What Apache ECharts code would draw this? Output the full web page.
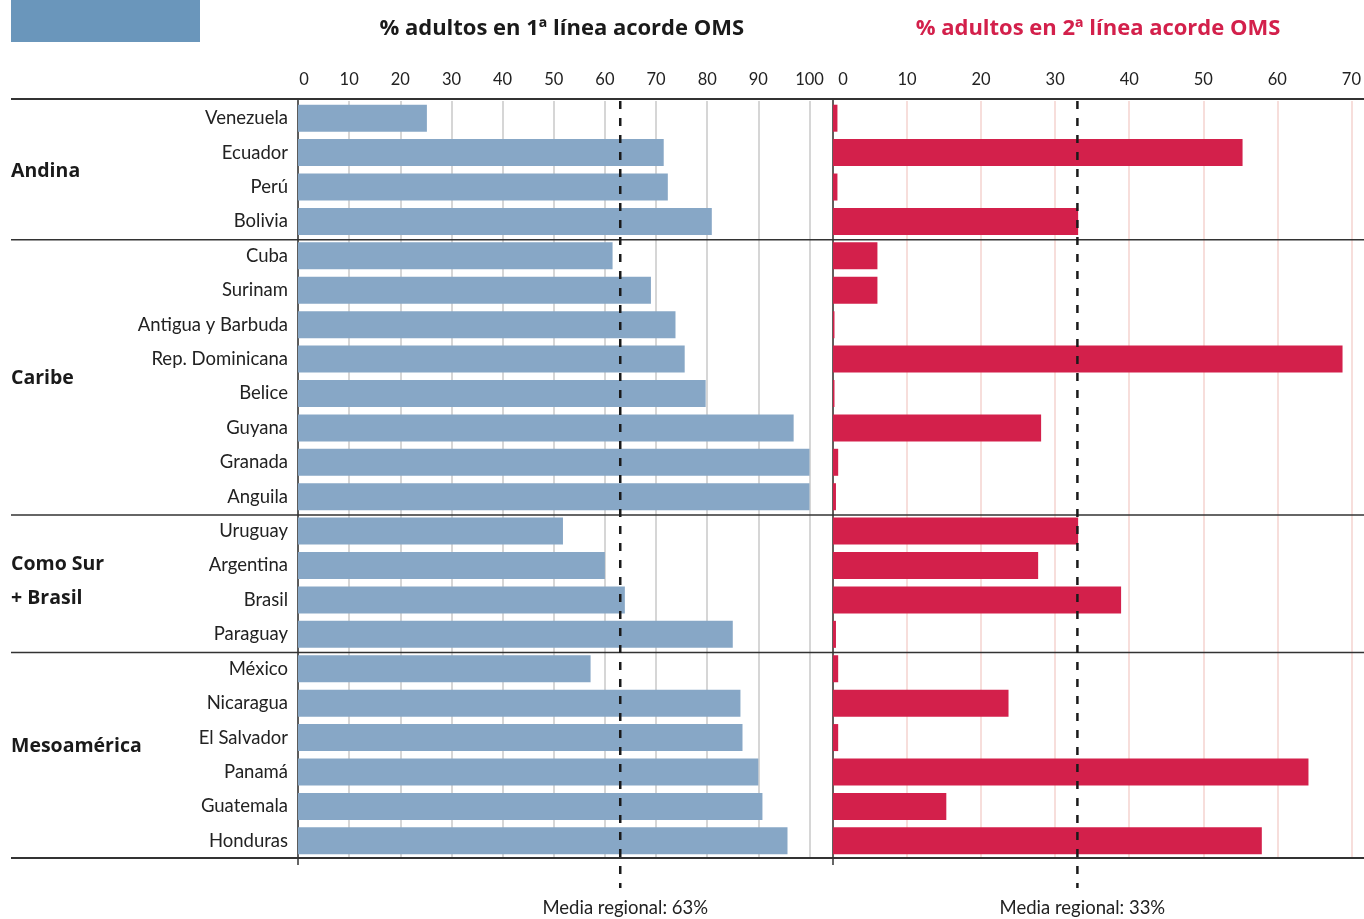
<!DOCTYPE html>
<html>
<head>
<meta charset="utf-8">
<script src="https://cdn.jsdelivr.net/npm/echarts@6/dist/echarts.min.js"></script>
<style>
html,body{margin:0;padding:0;background:#fff;}
#c{width:1364px;height:919px;}
</style>
</head>
<body>
<div id="c"></div>
<script>
var countries = ["Venezuela","Ecuador","Perú","Bolivia",
  "Cuba","Surinam","Antigua y Barbuda","Rep. Dominicana","Belice","Guyana","Granada","Anguila",
  "Uruguay","Argentina","Brasil","Paraguay",
  "México","Nicaragua","El Salvador","Panamá","Guatemala","Honduras"];
var groupNames = [["Andina"],["Caribe"],["Como Sur","+ Brasil"],["Mesoamérica"]];
var groupSizes = [4, 8, 4, 6];
var firstLine = [25.2, 71.5, 72.3, 80.9,
  61.5, 69, 73.8, 75.6, 79.7, 96.9, 100, 100,
  51.8, 60, 63.9, 85,
  57.2, 86.5, 86.9, 90, 90.8, 95.7];
var secondLine = [0.6, 55.3, 0.6, 33.1,
  6, 6, 0.2, 68.8, 0.2, 28.1, 0.7, 0.4,
  33.1, 27.7, 38.9, 0.4,
  0.7, 23.7, 0.7, 64.2, 15.3, 57.9];
var mean1 = 63, mean2 = 33;
var ticks1 = {min: 0, max: 100, interval: 10};
var ticks2 = {min: 0, max: 70, interval: 10};
var title1 = "% adultos en 1ª línea acorde OMS";
var title2 = "% adultos en 2ª línea acorde OMS";

var FONT = "Lato, 'Open Sans', sans-serif";
var BFONT = "'Open Sans', Lato, sans-serif";
var groupNudge = [2, 2, -1, -8];
var chart = echarts.init(document.getElementById('c'));

function axisLabelCfg(pad){
  return {
    fontSize: 16.5, color: '#222', fontFamily: FONT, margin: 13,
    formatter: function(v){ return v === 0 ? '{z|0}' : String(v); },
    rich: {z: {fontSize: 16.5, color: '#222', fontFamily: FONT, padding: [0,0,0,pad]}}
  };
}

chart.setOption({
  animation: false,
  grid: [
    {left: 298, right: 554.5, top: 101, bottom: 61},
    {left: 833, right: 11, top: 101, bottom: 61}
  ],
  xAxis: [
    {type: 'value', gridIndex: 0, position: 'top', min: ticks1.min, max: ticks1.max, interval: ticks1.interval,
     axisLine: {show: false}, axisTick: {show: false},
     splitLine: {show: true, lineStyle: {color: '#c9c9c9', width: 1.5}},
     axisLabel: axisLabelCfg(12)},
    {type: 'value', gridIndex: 1, position: 'top', min: ticks2.min, max: ticks2.max, interval: ticks2.interval,
     axisLine: {show: false}, axisTick: {show: false},
     splitLine: {show: true, lineStyle: {color: '#f4d3cf', width: 1.5}},
     axisLabel: axisLabelCfg(20)}
  ],
  yAxis: [
    {type: 'category', gridIndex: 0, inverse: true, data: countries,
     axisLine: {show: false}, axisTick: {show: false},
     axisLabel: {fontSize: 18.5, color: '#222', fontFamily: FONT, margin: 10, padding: [0,0,4,0]}},
    {type: 'category', gridIndex: 1, inverse: true, data: countries,
     axisLine: {show: false}, axisTick: {show: false}, axisLabel: {show: false}}
  ],
  series: [
    {type: 'bar', xAxisIndex: 0, yAxisIndex: 0, data: firstLine, barWidth: 27,
     itemStyle: {color: '#87a7c6'}},
    {type: 'bar', xAxisIndex: 1, yAxisIndex: 1, data: secondLine, barWidth: 27,
     itemStyle: {color: '#d3204b'}}
  ]
});

// decorations positioned through the chart's own scales
var n = countries.length;
var yTop = chart.convertToPixel({yAxisIndex: 0}, 0);
var yBot = chart.convertToPixel({yAxisIndex: 0}, n - 1);
var band = (yBot - yTop) / (n - 1);
var gTop = yTop - band / 2, gBot = yBot + band / 2;
var x0L = chart.convertToPixel({xAxisIndex: 0}, 0);
var x0R = chart.convertToPixel({xAxisIndex: 1}, 0);
var xM1 = chart.convertToPixel({xAxisIndex: 0}, mean1);
var xM2 = chart.convertToPixel({xAxisIndex: 1}, mean2);

var els = [];
els.push({type: 'rect', shape: {x: 11, y: 0, width: 189, height: 42}, style: {fill: '#6a96bb'}});
els.push({type: 'text', x: (x0L + chart.convertToPixel({xAxisIndex: 0}, 100)) / 2 + 8, y: 29,
  style: {text: title1, fontSize: 22, fontWeight: 'bold', fill: '#1a1a1a', fontFamily: BFONT, align: 'center', verticalAlign: 'middle'}});
els.push({type: 'text', x: 1098, y: 29,
  style: {text: title2, fontSize: 22, fontWeight: 'bold', fill: '#d3204b', fontFamily: BFONT, align: 'center', verticalAlign: 'middle'}});

function hline(y, w){
  els.push({type: 'line', z: 10, shape: {x1: 11, y1: y, x2: 1364, y2: y}, style: {stroke: '#333', lineWidth: w}});
}
hline(gTop - 2, 2);
var start = 0;
for (var g = 0; g < groupSizes.length; g++) {
  var mid = gTop + (start + groupSizes[g] / 2) * band + groupNudge[g];
  var lines = groupNames[g];
  for (var k = 0; k < lines.length; k++) {
    var yy = mid + (k - (lines.length - 1) / 2) * 34;
    els.push({type: 'text', x: 11, y: yy,
      style: {text: lines[k], fontSize: 19.5, fontWeight: 'bold', fill: '#1a1a1a', fontFamily: BFONT, align: 'left', verticalAlign: 'middle'}});
  }
  start += groupSizes[g];
  if (start < n) hline(gTop + start * band + 1, 1.5);
}
hline(gBot, 2);

[x0L, x0R].forEach(function(x){
  els.push({type: 'line', z: 1, shape: {x1: x, y1: gTop - 2, x2: x, y2: gBot + 7}, style: {stroke: '#333', lineWidth: 1.5}});
});
[[xM1, mean1], [xM2, mean2]].forEach(function(p){
  els.push({type: 'line', z: 20, shape: {x1: p[0], y1: gTop, x2: p[0], y2: gBot + 30},
    style: {stroke: '#1a1a1a', lineWidth: 2.5, lineDash: [8, 9]}});
  els.push({type: 'text', x: p[0] + 5, y: 908,
    style: {text: 'Media regional: ' + p[1] + '%', fontSize: 18.5, fill: '#222', fontFamily: FONT, align: 'center', verticalAlign: 'middle'}});
});

chart.setOption({graphic: {elements: els}});
</script>
</body>
</html>
